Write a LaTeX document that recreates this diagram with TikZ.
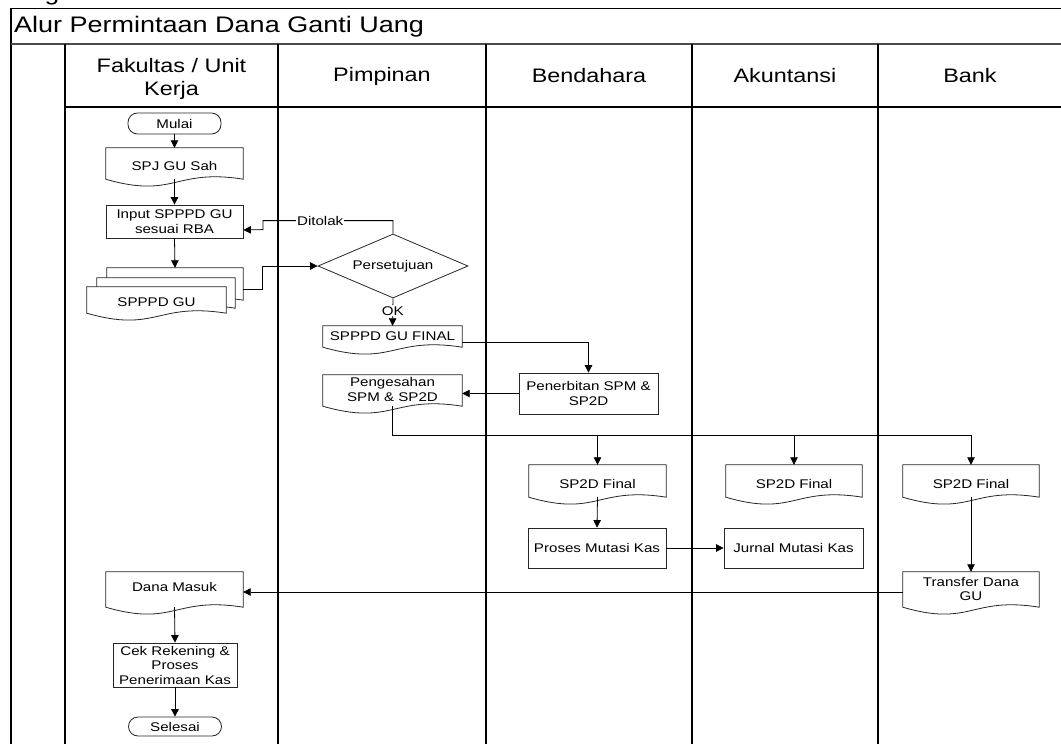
\documentclass[tikz,border=0pt]{standalone}
\usepackage{fontspec}
\setmainfont{Liberation Sans}[FakeStretch=1.2]
\usetikzlibrary{arrows.meta,shapes.geometric,calc}
\pgfdeclarelayer{background}
\pgfsetlayers{background,main}
\newcommand\ndfont{\fontsize{12.6}{14.5}\selectfont}
\newcommand\hdfont{\fontsize{19.5}{23}\selectfont}

\begin{document}
\begin{tikzpicture}[x=1pt,y=-1pt,
  frame/.style={line width=1.3pt, black},
  shapeline/.style={draw=black!85, line width=0.8pt},
  proc/.style={shapeline, rectangle, inner sep=1pt, align=center, font=\ndfont},
  term/.style={shapeline, rectangle, rounded corners=9.5pt, inner sep=1pt, font=\ndfont},
  doc/.style={rectangle, inner sep=1pt, align=center, font=\ndfont},
  decision/.style={shapeline, diamond, aspect=2.3, inner sep=0pt, font=\ndfont},
  lanehead/.style={font=\hdfont, align=center},
  arr/.style={line width=0.8pt, black, -{Triangle[length=7.5pt,width=7.5pt]}},
  lbl/.style={fill=white, inner sep=1pt, font=\ndfont},
]
\useasboundingbox (0,0) rectangle (1061,744);

% heading above the frame, cut by the page edge
\node[font=\fontsize{22}{26}\selectfont, anchor=base] (gfrag) at (52,0) {g};

% pool frame and swimlanes
\draw[frame] (11,760) -- (11,8.5) -- (1070,8.5);
\draw[line width=2pt, black!70] (11,44) -- (1070,44);
\draw[frame] (65,107) -- (1070,107);
\foreach \x in {65,278,486,692,878} \draw[frame] (\x,44) -- (\x,760);

\node[font=\fontsize{22.5}{27}\selectfont, anchor=west, inner sep=0pt] (title) at (14,27) {Alur Permintaan Dana Ganti Uang};
\node[lanehead] (h1) at (171.5,79) {Fakultas / Unit\\Kerja};
\node[lanehead] (h2) at (382,76) {Pimpinan};
\node[lanehead] (h3) at (589,76) {Bendahara};
\node[lanehead] (h4) at (785,76) {Akuntansi};
\node[lanehead] (h5) at (970,76) {Bank};

% flow nodes
\node[term, minimum width=93pt, minimum height=21pt] (mulai) at (174.5,123.5) {Mulai};
\node[doc, minimum width=137pt, minimum height=36pt] (spj) at (174.5,166) {SPJ GU Sah};
\node[proc, minimum width=137pt, minimum height=33pt] (input) at (174.5,221.5) {Input SPPPD GU\\sesuai RBA};
\node[doc, minimum width=136pt, minimum height=37pt] (spback) at (175,286.5) {};
\node[doc, minimum width=138pt, minimum height=35pt] (spmid) at (166,295.5) {};
\node[doc, minimum width=139pt, minimum height=31pt] (spppd) at (156.5,302.5) {SPPPD GU};
\node[decision, minimum width=150pt, minimum height=64pt] (setuju) at (393,266) {Persetujuan};
\node[doc, minimum width=139pt, minimum height=26pt, text depth=6pt] (final) at (392.5,339) {SPPPD GU FINAL};
\node[doc, minimum width=139pt, minimum height=36pt, text depth=7pt] (peng) at (392.5,393) {Pengesahan\\SPM \& SP2D};
\node[proc, minimum width=139pt, minimum height=41pt] (terbit) at (588.5,393.5) {Penerbitan SPM \&\\SP2D};
\node[doc, minimum width=137pt, minimum height=37pt] (sp2da) at (597.5,483.5) {SP2D Final};
\node[doc, minimum width=136pt, minimum height=37pt] (sp2db) at (794,483.5) {SP2D Final};
\node[doc, minimum width=136pt, minimum height=37pt] (sp2dc) at (971,483.5) {SP2D Final};
\node[proc, minimum width=138pt, minimum height=40pt] (mutasi) at (597,548) {Proses Mutasi Kas};
\node[proc, minimum width=139pt, minimum height=40pt] (jurnal) at (793.5,548) {Jurnal Mutasi Kas};
\node[doc, minimum width=136pt, minimum height=40pt, text depth=6pt] (transfer) at (971,592) {Transfer Dana\\GU};
\node[doc, minimum width=137pt, minimum height=40pt, text depth=10pt] (dana) at (174.5,592) {Dana Masuk};
\node[proc, minimum width=124pt, minimum height=44pt] (cek) at (175,665) {Cek Rekening \&\\Proses\\Penerimaan Kas};
\node[term, minimum width=93pt, minimum height=19pt] (selesai) at (175,726.5) {Selesai};

% document outlines: straight top and sides, wavy bottom
\begin{pgfonlayer}{background}
\foreach \d in {spback,spmid,spppd,spj,final,peng,sp2da,sp2db,sp2dc,transfer,dana}{
  \draw[shapeline, fill=white] let \p1=(\d.north west), \p2=(\d.south east) in
    (\x1,{\y2+5pt}) -- (\x1,\y1) -- (\x2,\y1) -- (\x2,{\y2+5pt})
    .. controls ({0.5*\x1+0.5*\x2},{\y2+16pt}) and ({0.5*\x1+0.5*\x2},{\y2-15pt}) .. (\x1,{\y2+5pt}) -- cycle;
}
\end{pgfonlayer}

% connectors
\draw[arr] (mulai.south) -- (spj.north);
\draw[arr] ([yshift=5pt]spj.south) -- (input.north);
\draw[arr] (input.south) -- (spback.north);
\draw[arr] ([yshift=-2.5pt]spback.east) -- ++(19,0) |- (setuju.west);
\draw[arr] (setuju.north) |- ++(-130,-13) node[lbl, pos=0.78] {Ditolak} -- ++(0,9) -- ([yshift=-8.5pt]input.east);
\draw[arr] (setuju.south) -- node[lbl, pos=0.45] {OK} (final.north);
\draw[arr] ([yshift=-3pt]final.east) -| (terbit.north);
\draw[arr] (terbit.west) -- (terbit.west -| peng.east);
\path ([yshift=5pt]peng.south) ++(0,29) coordinate (bus);
\draw[arr] ([yshift=5pt]peng.south) -- (bus) -| (sp2dc.north);
\draw[arr] (bus -| sp2da.north) -- (sp2da.north);
\draw[arr] (bus -| sp2db.north) -- (sp2db.north);
\draw[arr] ([yshift=5pt]sp2da.south) -- (mutasi.north);
\draw[arr] (mutasi.east) -- (jurnal.west);
\draw[arr] ([yshift=5pt]sp2dc.south) -- (transfer.north);
\draw[arr] (transfer.west) -- (transfer.west -| dana.east);
\draw[arr] ([yshift=5pt]dana.south) -- (cek.north);
\draw[arr] (cek.south) -- (selesai.north);
\end{tikzpicture}
\end{document}
